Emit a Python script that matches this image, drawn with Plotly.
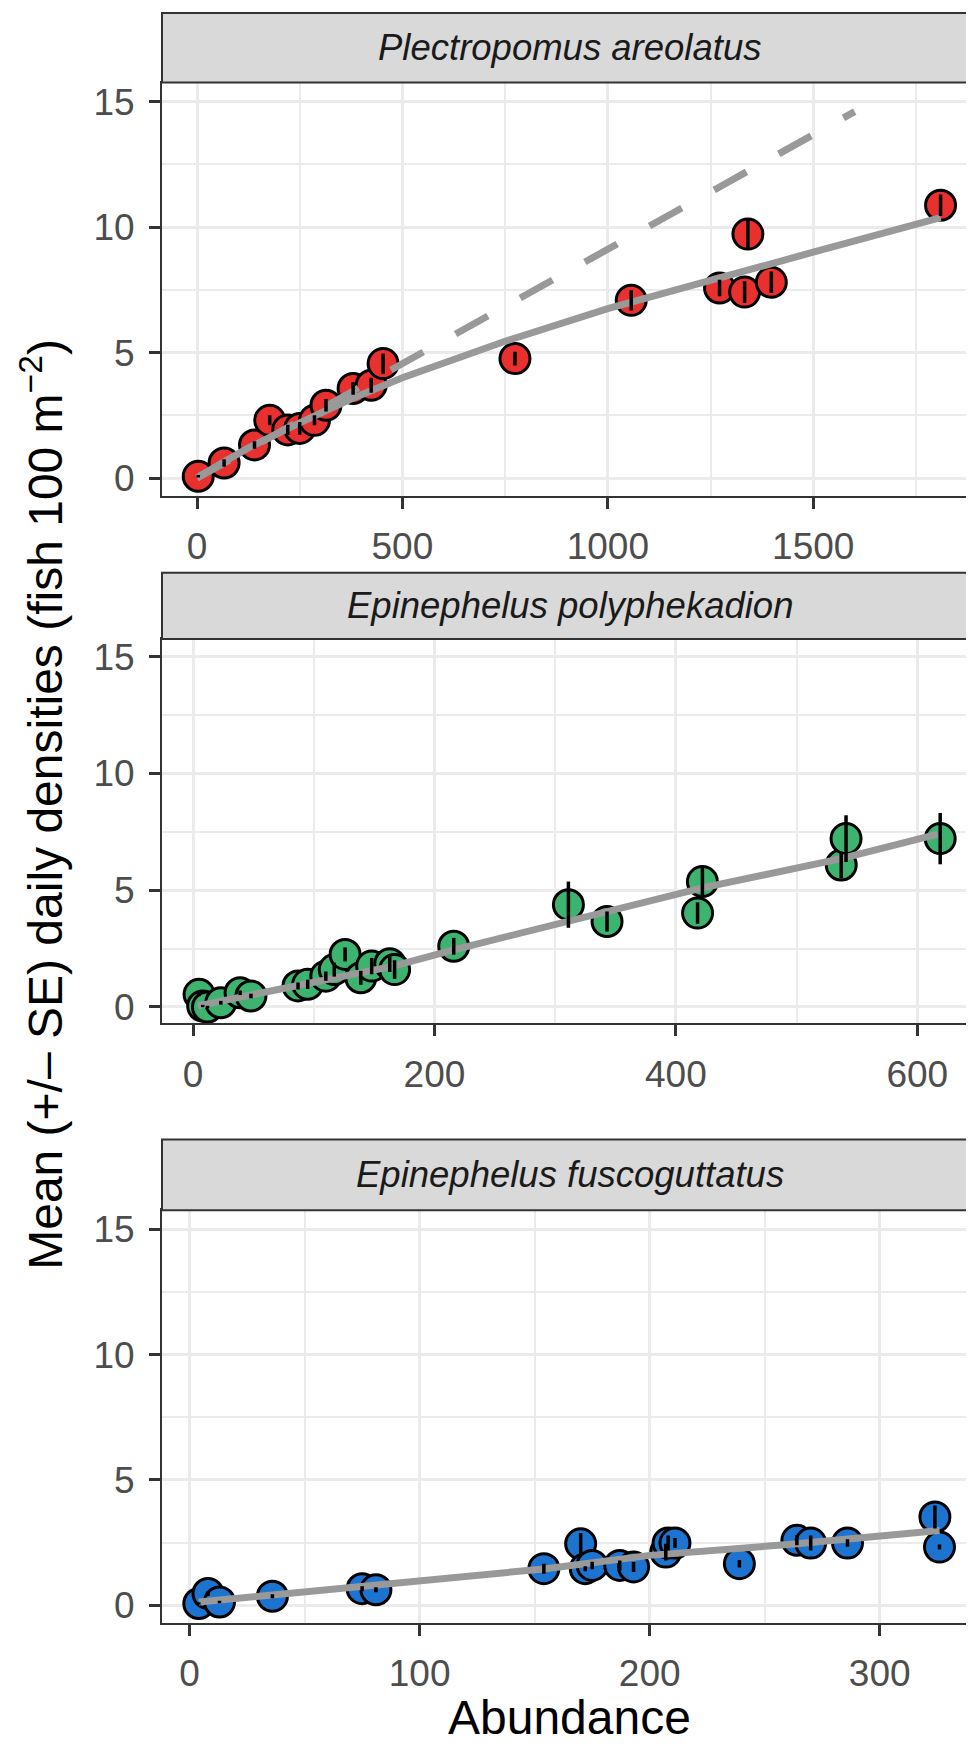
import plotly.graph_objects as go

# Plectropomus areolatus
PA_ABUND = [3, 66, 140, 177, 221, 250, 286, 314, 380, 424, 453, 774, 1057, 1272, 1333, 1341, 1398, 1810]
PA_MEAN = [0.07, 0.6, 1.32, 2.3, 1.92, 1.98, 2.3, 2.9, 3.57, 3.7, 4.56, 4.76, 7.08, 7.57, 7.41, 9.72, 7.8, 10.87]
PA_SE = [0.05, 0.15, 0.15, 0.2, 0.2, 0.25, 0.2, 0.25, 0.25, 0.3, 0.4, 0.27, 0.4, 0.33, 0.43, 0.56, 0.43, 0.43]
PA_FIT_X = [5, 125, 250, 375, 500, 750, 1000, 1250, 1500, 1810]
PA_FIT_Y = [0.07, 1.2, 2.2, 3.15, 4.0, 5.45, 6.75, 7.9, 9.0, 10.38]
PA_REF_X = [0, 1601]
PA_REF_Y = [0.0, 14.6]

# Epinephelus polyphekadion
EP_ABUND = [5, 8, 12, 23, 39, 48, 87, 95, 110, 117, 126, 139, 148, 163, 167, 216, 311, 343, 418, 422, 537, 541, 619]
EP_MEAN = [0.54, 0.04, 0.0, 0.18, 0.61, 0.47, 0.9, 0.97, 1.32, 1.6, 2.25, 1.25, 1.75, 1.85, 1.6, 2.6, 4.38, 3.66, 4.02, 5.37, 6.08, 7.21, 7.21]
EP_SE = [0.08, 0.05, 0.05, 0.08, 0.1, 0.1, 0.15, 0.2, 0.2, 0.3, 0.3, 0.3, 0.35, 0.35, 0.4, 0.36, 0.99, 0.43, 0.46, 0.6, 0.57, 1.0, 1.1]
EP_FIT_X = [4, 95, 166, 216, 302, 422, 537, 617]
EP_FIT_Y = [0.05, 1.0, 1.75, 2.45, 3.55, 5.1, 6.35, 7.4]

# Epinephelus fuscoguttatus
EF_ABUND = [4, 8, 13, 36, 75, 81, 154, 170, 172, 175, 187, 193, 207, 208, 211, 239, 264, 270, 286, 324, 326]
EF_MEAN = [0.07, 0.47, 0.13, 0.36, 0.66, 0.62, 1.46, 2.45, 1.46, 1.59, 1.59, 1.53, 2.12, 2.48, 2.48, 1.66, 2.59, 2.48, 2.48, 3.52, 2.32]
EF_SE = [0.05, 0.1, 0.05, 0.08, 0.1, 0.1, 0.2, 0.43, 0.1, 0.15, 0.2, 0.2, 0.33, 0.3, 0.2, 0.15, 0.2, 0.3, 0.15, 0.46, 0.1]
EF_FIT_X = [4, 100, 154, 200, 264, 326]
EF_FIT_Y = [0.13, 0.99, 1.45, 1.99, 2.45, 2.98]

SPECIES = ["Plectropomus areolatus", "Epinephelus polyphekadion", "Epinephelus fuscoguttatus"]
Y_TICKS = [0, 5, 10, 15]

W, H = 974, 1745
FONT = "Liberation Sans"
LINE_GREY = "#999999"
GRID = "#EBEBEB"

# pixel layout: (strip top, panel top, panel bottom)
PANELS_PX = [(3, 72.8, 487.6), (565, 631.5, 1017.4), (1134, 1205, 1619.3)]
LEFT_PX, RIGHT_PX = 154, 969


def py(px):
    return 1 - px / H


def px_x(px):
    return px / W


def add_panel(fig, n, abund, mean, fit_x, fit_y, colour):
    xa = "x" if n == 1 else f"x{n}"
    ya = "y" if n == 1 else f"y{n}"
    fig.add_trace(go.Scatter(
        x=abund, y=mean, mode="markers", xaxis=xa, yaxis=ya,
        marker=dict(size=30, color=colour, line=dict(color="black", width=3)),
        showlegend=False,
    ))
    fig.add_trace(go.Scatter(
        x=fit_x, y=fit_y, mode="lines", xaxis=xa, yaxis=ya,
        line=dict(color=LINE_GREY, width=7),
        showlegend=False,
    ))
    return xa, ya


def add_errorbars(fig, xa, ya, abund, mean, se):
    # drawn last so the bars sit on top of points and fit lines
    fig.add_trace(go.Scatter(
        x=abund, y=mean, mode="markers", xaxis=xa, yaxis=ya,
        marker=dict(size=1, opacity=0),
        error_y=dict(type="data", array=se, color="black", thickness=3.5, width=0),
        showlegend=False,
    ))


fig = go.Figure()

xa, ya = add_panel(fig, 1, PA_ABUND, PA_MEAN, PA_FIT_X, PA_FIT_Y, "#E8302F")
fig.add_trace(go.Scatter(
    x=PA_REF_X, y=PA_REF_Y, mode="lines", xaxis=xa, yaxis=ya,
    line=dict(color=LINE_GREY, width=7, dash="37px,37px"),
    showlegend=False,
))
add_errorbars(fig, xa, ya, PA_ABUND, PA_MEAN, PA_SE)

xa, ya = add_panel(fig, 2, EP_ABUND, EP_MEAN, EP_FIT_X, EP_FIT_Y, "#3DB370")
add_errorbars(fig, xa, ya, EP_ABUND, EP_MEAN, EP_SE)

xa, ya = add_panel(fig, 3, EF_ABUND, EF_MEAN, EF_FIT_X, EF_FIT_Y, "#1C74D0")
add_errorbars(fig, xa, ya, EF_ABUND, EF_MEAN, EF_SE)

x_ranges = [[-85.2, 1898.7], [-25.7, 649.5], [-12.0, 342.3]]
x_dticks = [500, 200, 100]

tick_font = dict(family=FONT, size=37, color="#4D4D4D")
common = dict(
    showline=True, mirror=True, linecolor="#333333", linewidth=2,
    ticks="outside", ticklen=11, tickwidth=3, tickcolor="#333333",
    showgrid=True, gridcolor=GRID, gridwidth=3,
    zeroline=False, tickfont=tick_font,
)

layout = dict(
    width=W, height=H,
    margin=dict(l=0, r=0, t=0, b=0),
    paper_bgcolor="white", plot_bgcolor="white",
    showlegend=False,
)
shapes = []
annotations = []
for i, (strip_top, top, bottom) in enumerate(PANELS_PX):
    n = i + 1
    xkey = "xaxis" if n == 1 else f"xaxis{n}"
    ykey = "yaxis" if n == 1 else f"yaxis{n}"
    anchor_x = "x" if n == 1 else f"x{n}"
    anchor_y = "y" if n == 1 else f"y{n}"
    layout[xkey] = dict(
        domain=[px_x(LEFT_PX), px_x(RIGHT_PX)], anchor=anchor_y,
        range=x_ranges[i], tickmode="linear", tick0=0, dtick=x_dticks[i],
        minor=dict(dtick=x_dticks[i] / 2, showgrid=True, gridcolor=GRID, gridwidth=1.5),
        ticklabelstandoff=6,
        **common,
    )
    layout[ykey] = dict(
        domain=[py(bottom), py(top)], anchor=anchor_x,
        range=[-0.70, 15.76], tickmode="array", tickvals=Y_TICKS,
        minor=dict(dtick=2.5, tick0=0, showgrid=True, gridcolor=GRID, gridwidth=1.5),
        ticklabelstandoff=7,
        **common,
    )
    shapes.append(dict(
        type="rect", xref="paper", yref="paper",
        x0=px_x(LEFT_PX), x1=px_x(RIGHT_PX), y0=py(top), y1=py(strip_top),
        fillcolor="#D9D9D9", line=dict(color="#333333", width=2), layer="above",
    ))
    annotations.append(dict(
        text=f"<i>{SPECIES[i]}</i>", xref="paper", yref="paper",
        x=px_x((LEFT_PX + RIGHT_PX) / 2), y=py((strip_top + top) / 2),
        xanchor="center", yanchor="middle", showarrow=False,
        font=dict(family=FONT, size=36.5, color="#1A1A1A"),
    ))

annotations.append(dict(
    text="Abundance", xref="paper", yref="paper",
    x=px_x((LEFT_PX + RIGHT_PX) / 2), y=py(1714),
    xanchor="center", yanchor="middle", showarrow=False,
    font=dict(family=FONT, size=48, color="black"),
))
annotations.append(dict(
    text="Mean (+/– SE) daily densities (fish 100 m<sup>−2</sup>)",
    xref="paper", yref="paper",
    x=px_x(34), y=py(798), textangle=-90,
    xanchor="center", yanchor="middle", showarrow=False,
    font=dict(family=FONT, size=48, color="black"),
))

layout["shapes"] = shapes
layout["annotations"] = annotations
fig.update_layout(**layout)

fig.write_html("out.html")
